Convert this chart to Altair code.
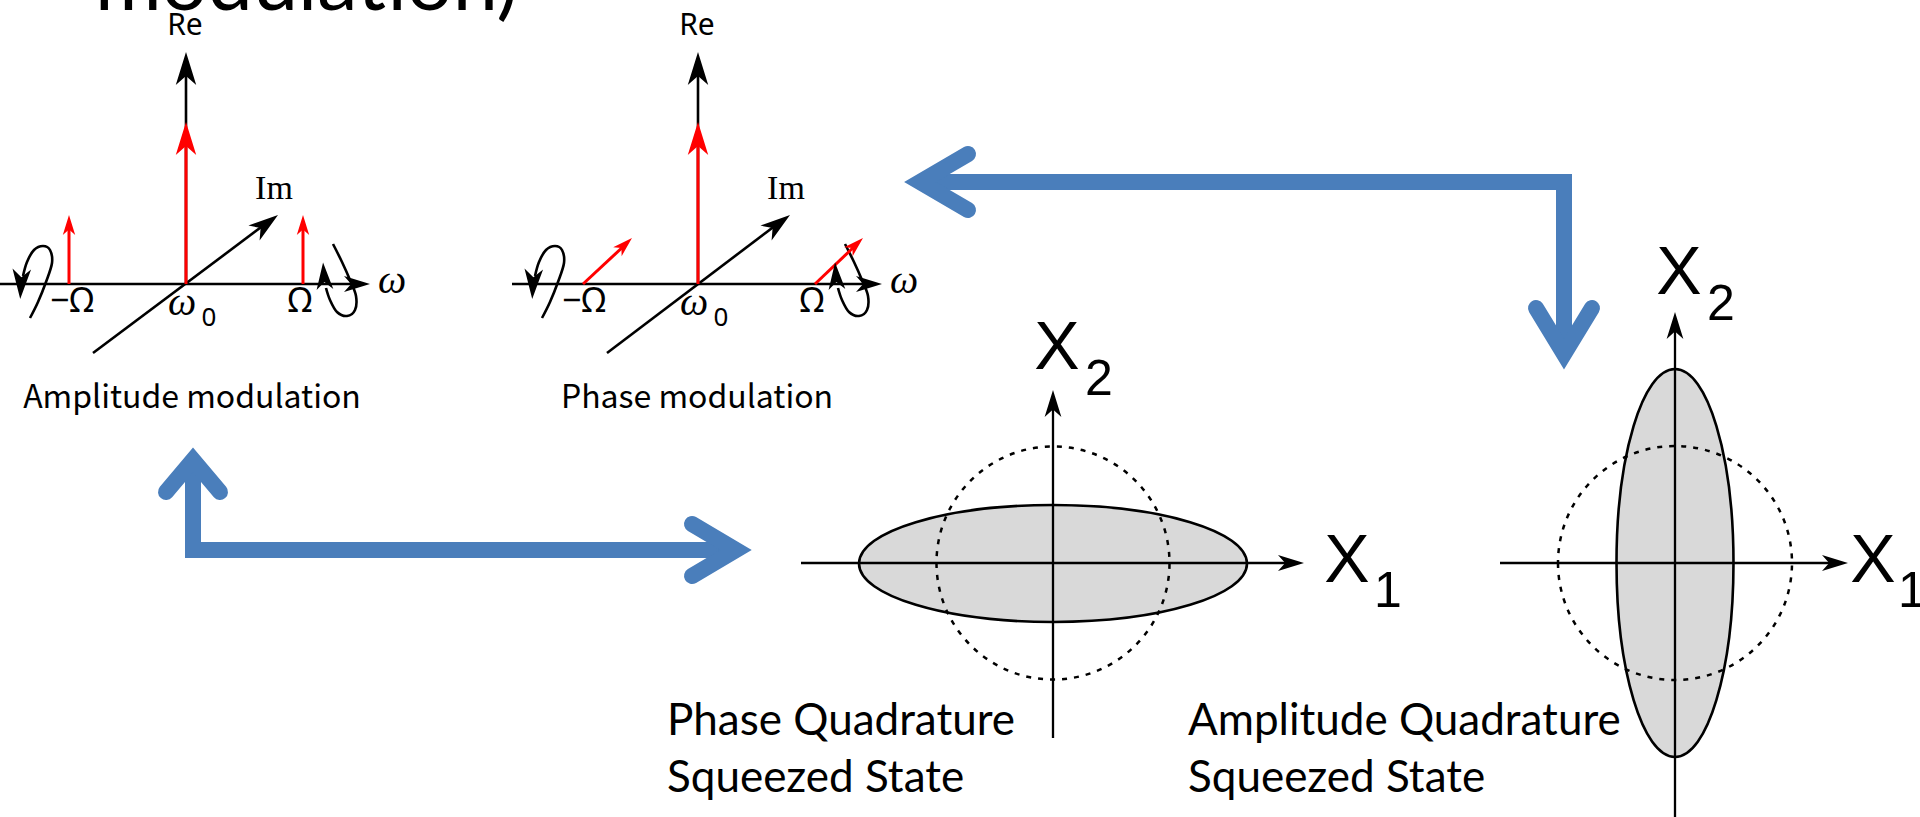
import altair as alt
import pandas as pd

W, H = 1920, 817
BLUE = "#4a7ebb"
RED = "#ff0000"
GRAY = "#d9d9d9"

# ---------------- geometry (pixel space, y grows downward) ----------------
# thick blue connectors: straight shafts
blue_shafts = [
    ("top_h", [(1572, 182), (920, 182)]),
    ("top_v", [(1564, 174), (1564, 354)]),
    ("bot_v", [(193, 558), (193, 460)]),
    ("bot_h", [(185, 550), (736, 550)]),
]
# blue chevron heads: wing end, vertex, wing end
blue_heads = [
    ("left", [(968, 154), (920, 182), (968, 210)]),
    ("down", [(1536, 308), (1564, 354), (1592, 308)]),
    ("up", [(166, 492), (193, 460), (220, 492)]),
    ("right", [(692, 524), (736, 550), (692, 576)]),
]

# spectral diagrams: black axes and rotation loops
black_lines = [
    ("am_w", [(0, 284), (360, 284)]),
    ("am_re", [(186, 284), (186, 64)]),
    ("am_im", [(93, 353), (268, 222)]),
    ("am_loopL", [(30, 318), (38, 302), (46, 282), (52, 263), (50, 250), (43, 246),
                  (34, 250), (27, 262), (23, 276)]),
    ("am_loopR", [(333, 244), (342, 262), (350, 280), (356, 296), (355, 310), (347, 316),
                  (337, 312), (330, 300), (326, 288)]),
    ("pm_w", [(512, 284), (872, 284)]),
    ("pm_re", [(698, 284), (698, 64)]),
    ("pm_im", [(607, 353), (780, 222)]),
    ("pm_loopL", [(542, 318), (550, 302), (558, 282), (564, 263), (562, 250), (555, 246),
                  (546, 250), (539, 262), (535, 276)]),
    ("pm_loopR", [(845, 244), (854, 262), (862, 280), (868, 296), (867, 310), (859, 316),
                  (849, 312), (842, 300), (838, 288)]),
]
red_lines = [
    ("am_c", [(186, 284), (186, 134)]),
    ("am_l", [(69, 284), (69, 226)]),
    ("am_r", [(303, 284), (303, 226)]),
    ("pm_c", [(698, 284), (698, 134)]),
    ("pm_l", [(583, 284), (626, 244)]),
    ("pm_r", [(815, 284), (857, 244)]),
]
# quadrature-plane axes
quad_axes = [
    ("ps_x1", [(801, 563), (1292, 563)]),
    ("ps_x2", [(1053, 738), (1053, 402)]),
    ("as_x1", [(1500, 563), (1836, 563)]),
    ("as_x2", [(1675, 817), (1675, 324)]),
]

# arrow heads: centre x, centre y, angle (deg, clockwise from up), length
black_heads_x = [186, 266, 357, 21, 324, 698, 778, 869, 533, 836]
black_heads_y = [68.5, 224, 284, 284, 276, 68.5, 224, 284, 284, 276]
black_heads_a = [0, 53.1, 90, 183, 356, 0, 53.1, 90, 183, 356]
black_heads_l = [33, 30, 26, 30, 27, 33, 30, 26, 30, 27]

red_heads_x = [186, 69, 303, 698, 624.7, 855.7]
red_heads_y = [138.5, 225, 225, 138.5, 244.8, 244.8]
red_heads_a = [0, 0, 0, 0, 46.8, 46.8]
red_heads_l = [33, 20, 20, 33, 20, 20]

quad_heads_x = [1291, 1053, 1835, 1675]
quad_heads_y = [563, 403.5, 563, 325.5]
quad_heads_a = [90, 0, 90, 0]
quad_heads_l = [26, 27, 26, 27]

# squeezed-state ellipses and vacuum circles: centre x, centre y, full width
ellipse_x = [1053, 1675]
ellipse_y = [563.5, 563]
ellipse_w = [388, 388]
circle_x = [1053, 1675]
circle_y = [563, 563]
circle_d = [233, 234]

# ---------------- text ----------------
title_text = ["modulation)"]

sym_labels = ["Re", "Re", "−Ω", "Ω", "−Ω", "Ω"]
sym_x = [185, 697, 72, 300, 584, 812]
sym_y = [26, 26, 302, 302, 302, 302]
sym_fs = [30, 30, 34, 34, 34, 34]

caption_labels = ["Amplitude modulation", "Phase modulation"]
caption_x = [192, 697]
caption_y = [398, 398]

serif_labels = ["Im", "Im"]
serif_x = [274, 786]
serif_y = [189, 189]

omega_labels = ["ω", "ω", "ω", "ω"]
omega_x = [392, 904, 182, 694]
omega_y = [281, 281, 303, 303]
omega_fs = [40, 40, 40, 40]
sub0_x = [209, 721]
sub0_y = [318, 318]

quad_big = ["X", "X", "X", "X"]
quad_big_x = [1057, 1347, 1679, 1873]
quad_big_y = [349, 562, 274, 562]
quad_sub = ["2", "1", "2", "1"]
quad_sub_x = [1099, 1388, 1721, 1912]
quad_sub_y = [380, 592, 305, 592]

state_lines = ["Phase Quadrature", "Squeezed State", "Amplitude Quadrature", "Squeezed State"]
state_x = [667, 667, 1188, 1188]
state_y = [735, 792, 735, 792]


# ---------------- helpers ----------------
def poly_frame(polys):
    rows = []
    for pid, pts in polys:
        for i, (px, py) in enumerate(pts):
            rows.append({"id": pid, "o": i, "x": px, "y": py})
    return pd.DataFrame(rows)


X = alt.X("x:Q", scale=alt.Scale(domain=[0, W], nice=False, zero=False), axis=None)
Y = alt.Y("y:Q", scale=alt.Scale(domain=[0, H], nice=False, zero=False, reverse=True), axis=None)


def lines(polys, **mk):
    return alt.Chart(poly_frame(polys)).mark_line(**mk).encode(
        x=X, y=Y, detail="id:N", order="o:Q")


HEAD = "M0,-1L0.62,1L0,0.45L-0.62,1Z"


def heads(xs, ys, angs, lens, color):
    df = pd.DataFrame({"x": xs, "y": ys, "a": angs, "s": [v * v for v in lens]})
    return alt.Chart(df).mark_point(
        shape=HEAD, filled=True, color=color, opacity=1, strokeWidth=0
    ).encode(x=X, y=Y, angle=alt.Angle("a:Q", scale=None), size=alt.Size("s:Q", scale=None))


def texts(labels, xs, ys, sizes, **mk):
    df = pd.DataFrame({"x": xs, "y": ys, "t": labels, "fs": sizes})
    return alt.Chart(df).mark_text(color="black", **mk).encode(
        x=X, y=Y, text="t:N", size=alt.Size("fs:Q", scale=None))


ELLIPSE_H = "M-1,0A1,0.3015 0 1,0 1,0A1,0.3015 0 1,0 -1,0Z"
ELLIPSE_V = "M0,-1A0.3015,1 0 1,0 0,1A0.3015,1 0 1,0 0,-1Z"
CIRCLE = "M-1,0A1,1 0 1,0 1,0A1,1 0 1,0 -1,0Z"


def shape_layer(path, xs, ys, widths, **mk):
    df = pd.DataFrame({"x": xs, "y": ys, "s": [v * v for v in widths]})
    return alt.Chart(df).mark_point(shape=path, opacity=1, **mk).encode(
        x=X, y=Y, size=alt.Size("s:Q", scale=None))


# ---------------- layers ----------------
ell_h = shape_layer(ELLIPSE_H, ellipse_x[:1], ellipse_y[:1], ellipse_w[:1],
                    filled=True, fill=GRAY, fillOpacity=1, stroke="black", strokeWidth=2.6,
                    strokeOpacity=1)
ell_v = shape_layer(ELLIPSE_V, ellipse_x[1:], ellipse_y[1:], ellipse_w[1:],
                    filled=True, fill=GRAY, fillOpacity=1, stroke="black", strokeWidth=2.6,
                    strokeOpacity=1)
circles = shape_layer(CIRCLE, circle_x, circle_y, circle_d,
                      filled=False, stroke="black", strokeWidth=2.5, strokeDash=[5, 7])

blue_s = lines(blue_shafts, color=BLUE, strokeWidth=16, strokeCap="butt")
blue_h = lines(blue_heads, color=BLUE, strokeWidth=16, strokeCap="round", strokeJoin="miter",
               strokeMiterLimit=10)

black_l = lines(black_lines, color="black", strokeWidth=2.6, interpolate="cardinal")
red_l = lines(red_lines, color=RED, strokeWidth=3)
quad_l = lines(quad_axes, color="black", strokeWidth=2.3)

bh = heads(black_heads_x, black_heads_y, black_heads_a, black_heads_l, "black")
rh = heads(red_heads_x, red_heads_y, red_heads_a, red_heads_l, RED)
qh = heads(quad_heads_x, quad_heads_y, quad_heads_a, quad_heads_l, "black")

title = texts(title_text, [95], [10], [81], font="Lato", align="left", baseline="alphabetic")
sym = texts(sym_labels, sym_x, sym_y, sym_fs, font="Noto Sans", align="center",
            baseline="middle")
cap = texts(caption_labels, caption_x, caption_y, [32, 32], font="Noto Sans CJK JP",
            align="center", baseline="middle")
im = texts(serif_labels, serif_x, serif_y, [34, 34], font="Liberation Serif", align="center",
           baseline="middle")
om = texts(omega_labels, omega_x, omega_y, omega_fs, font="Liberation Serif",
           fontStyle="italic", align="center", baseline="middle")
sub0 = texts(["0", "0"], sub0_x, sub0_y, [26, 26], font="Noto Sans", align="center",
             baseline="middle")
xbig = texts(quad_big, quad_big_x, quad_big_y, [68] * 4, font="Liberation Sans",
             align="center", baseline="middle")
xsub = texts(quad_sub, quad_sub_x, quad_sub_y, [50] * 4, font="Liberation Sans",
             align="center", baseline="middle")
states = texts(state_lines, state_x, state_y, [44] * 4, font="Lato", align="left",
               baseline="alphabetic")

chart = alt.layer(
    ell_h, ell_v, circles, quad_l, qh,
    blue_s, blue_h,
    black_l, red_l, bh, rh,
    title, sym, cap, im, om, sub0, xbig, xsub, states,
).properties(
    width=W, height=H, autosize=alt.AutoSizeParams(type="none"), padding=0,
    background="white",
).configure_view(stroke=None)

chart.save("out.html", embed_options={"renderer": "svg", "actions": False})
